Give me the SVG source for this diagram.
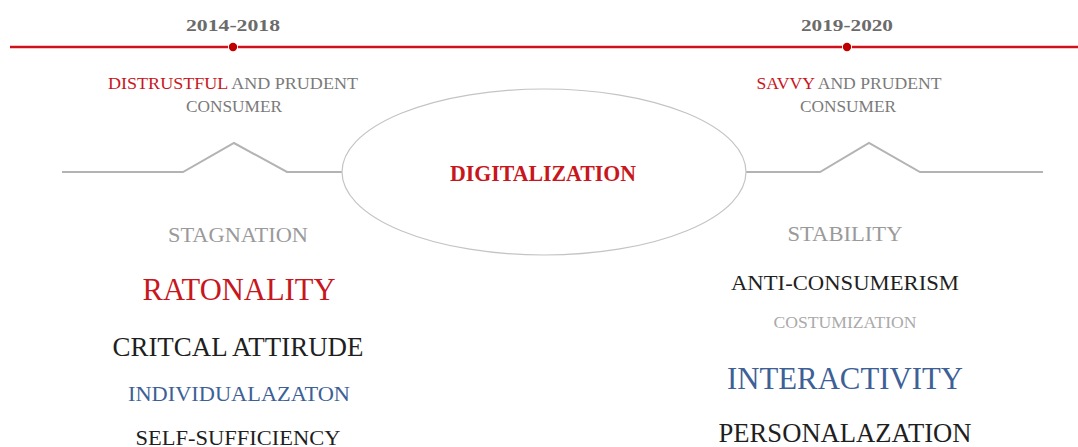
<svg xmlns="http://www.w3.org/2000/svg" width="1078" height="447" viewBox="0 0 1078 447">
  <style>
    text { font-family: "Liberation Serif", "DejaVu Serif", serif; text-anchor: middle; }
    .year { font-size: 17px; font-weight: bold; fill: #6b6b6b; }
    .cap { font-size: 17px; fill: #7a7a7a; }
    .red { fill: #c8161d; }
    .gray { fill: #9a9a9a; }
    .light { fill: #aaaaaa; }
    .dark { fill: #1f1f1f; }
    .blue { fill: #3d6096; }
    .zig { fill: none; stroke: #b3b3b3; stroke-width: 2; stroke-linejoin: miter; }
  </style>

  <rect width="1078" height="447" fill="#ffffff"/>

  <!-- timeline -->
  <g id="timeline">
    <line x1="10" y1="47" x2="228" y2="47" stroke="#d0111c" stroke-width="2.4"/>
    <line x1="238" y1="47" x2="842" y2="47" stroke="#d0111c" stroke-width="2.4"/>
    <line x1="852" y1="47" x2="1078" y2="47" stroke="#d0111c" stroke-width="2.4"/>
    <circle cx="233" cy="47" r="4.2" fill="#c00000"/>
    <circle cx="847" cy="47" r="4.2" fill="#c00000"/>
    <text class="year" x="233" y="31" textLength="94" lengthAdjust="spacingAndGlyphs">2014-2018</text>
    <text class="year" x="847" y="31" textLength="92" lengthAdjust="spacingAndGlyphs">2019-2020</text>
  </g>

  <!-- consumer profiles -->
  <g id="profile-left">
    <text class="cap" x="233" y="89" textLength="250" lengthAdjust="spacingAndGlyphs"><tspan class="red">DISTRUSTFUL</tspan> AND PRUDENT</text>
    <text class="cap" x="234" y="112" textLength="96" lengthAdjust="spacingAndGlyphs">CONSUMER</text>
  </g>
  <g id="profile-right">
    <text class="cap" x="849" y="89" textLength="185" lengthAdjust="spacingAndGlyphs"><tspan class="red">SAVVY</tspan> AND PRUDENT</text>
    <text class="cap" x="848" y="112" textLength="96" lengthAdjust="spacingAndGlyphs">CONSUMER</text>
  </g>

  <!-- connectors -->
  <g id="connectors">
    <polyline class="zig" points="62,172 183,172 234,143 287,172 342,172"/>
    <polyline class="zig" points="746,172 820,172 869,143 920,172 1043,172"/>
  </g>

  <!-- central node -->
  <g id="digitalization">
    <ellipse cx="544" cy="172" rx="202" ry="83" fill="#ffffff" stroke="#c4c4c4" stroke-width="1.2"/>
    <text x="543" y="181" font-size="23" font-weight="bold" class="red" textLength="186" lengthAdjust="spacingAndGlyphs">DIGITALIZATION</text>
  </g>

  <!-- left column -->
  <g id="traits-left">
    <text class="gray" x="238" y="242" font-size="21" textLength="140" lengthAdjust="spacingAndGlyphs">STAGNATION</text>
    <text class="red" x="239" y="300" font-size="32" textLength="193" lengthAdjust="spacingAndGlyphs">RATONALITY</text>
    <text class="dark" x="238" y="356" font-size="27" textLength="251" lengthAdjust="spacingAndGlyphs">CRITCAL ATTIRUDE</text>
    <text class="blue" x="239" y="401" font-size="22" textLength="222" lengthAdjust="spacingAndGlyphs">INDIVIDUALAZATON</text>
    <text class="dark" x="238" y="445" font-size="22" textLength="205" lengthAdjust="spacingAndGlyphs">SELF-SUFFICIENCY</text>
  </g>

  <!-- right column -->
  <g id="traits-right">
    <text class="gray" x="845" y="241" font-size="21" textLength="115" lengthAdjust="spacingAndGlyphs">STABILITY</text>
    <text class="dark" x="845" y="290" font-size="22" textLength="228" lengthAdjust="spacingAndGlyphs">ANTI-CONSUMERISM</text>
    <text class="light" x="845" y="328" font-size="17" textLength="143" lengthAdjust="spacingAndGlyphs">COSTUMIZATION</text>
    <text class="blue" x="845" y="389" font-size="32" textLength="236" lengthAdjust="spacingAndGlyphs">INTERACTIVITY</text>
    <text class="dark" x="845" y="442" font-size="27" textLength="253" lengthAdjust="spacingAndGlyphs">PERSONALAZATION</text>
  </g>
</svg>
